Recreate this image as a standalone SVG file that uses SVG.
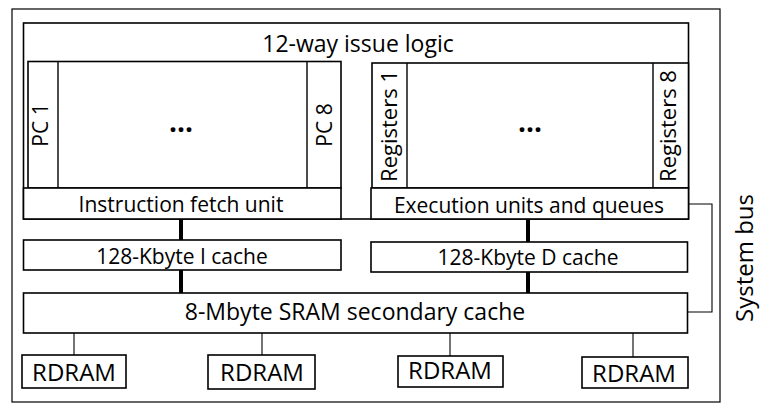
<svg xmlns="http://www.w3.org/2000/svg" width="763" height="405" viewBox="0 0 763 405">
  <style>
    .box { fill: #fff; stroke: #000; stroke-width: 1.6; }
    .frame { fill: none; stroke: #000; stroke-width: 1.2; }
    .div { stroke: #000; stroke-width: 1.4; fill: none; }
    .t { font-family: "Open Sans", "Noto Sans", sans-serif; fill: #000; text-anchor: middle; }
    .m { font-size: 21px; }
    .r { font-size: 22px; }
    .l { font-size: 23px; }
    .xl { font-size: 24px; }
    .dots { font-size: 28px; font-weight: bold; }
    .bus { stroke: #000; stroke-width: 4; fill: none; }
    .wire { stroke: #000; stroke-width: 1.1; fill: none; }
  </style>

  <!-- outer chip boundary -->
  <rect class="frame" x="12" y="9" width="708" height="393"/>

  <g id="issue-logic">
    <rect class="box" x="23.5" y="23" width="665" height="196"/>
    <text class="t l" x="358" y="52">12-way issue logic</text>
  </g>

  <g id="pc-bank">
    <rect class="box" x="28" y="61.5" width="313" height="126.5"/>
    <line class="div" x1="58" y1="61.5" x2="58" y2="188"/>
    <line class="div" x1="307" y1="61.5" x2="307" y2="188"/>
    <text class="t m" transform="translate(48,125) rotate(-90)">PC 1</text>
    <text class="t m" transform="translate(332,125) rotate(-90)">PC 8</text>
    <text class="t dots" x="181" y="132">...</text>
  </g>

  <g id="register-bank">
    <rect class="box" x="372" y="63" width="316.5" height="125"/>
    <line class="div" x1="407" y1="63" x2="407" y2="188"/>
    <line class="div" x1="653" y1="63" x2="653" y2="188"/>
    <text class="t r" transform="translate(397,126) rotate(-90)">Registers 1</text>
    <text class="t r" transform="translate(676,126) rotate(-90)">Registers 8</text>
    <text class="t dots" x="530" y="132">...</text>
  </g>

  <g id="fetch-unit">
    <rect class="box" x="23.5" y="188" width="317.5" height="31"/>
    <text class="t m" x="181" y="212">Instruction fetch unit</text>
  </g>

  <g id="exec-units">
    <rect class="box" x="371" y="188" width="317.5" height="31"/>
    <text class="t m" x="529" y="213">Execution units and queues</text>
  </g>

  <g id="icache">
    <rect class="box" x="23.5" y="240" width="317.5" height="30"/>
    <text class="t m" x="182" y="264">128-Kbyte I cache</text>
  </g>

  <g id="dcache">
    <rect class="box" x="371" y="242" width="316.5" height="30"/>
    <text class="t m" x="528" y="265">128-Kbyte D cache</text>
  </g>

  <g id="sram">
    <rect class="box" x="23.5" y="293" width="664" height="40"/>
    <text class="t l" x="355" y="320">8-Mbyte SRAM secondary cache</text>
  </g>

  <g id="rdram-1">
    <rect class="box" x="22" y="355" width="104" height="33"/>
    <text class="t xl" x="74" y="381">RDRAM</text>
  </g>
  <g id="rdram-2">
    <rect class="box" x="208" y="355" width="107" height="34"/>
    <text class="t xl" x="262" y="381">RDRAM</text>
  </g>
  <g id="rdram-3">
    <rect class="box" x="398" y="356" width="105" height="31"/>
    <text class="t xl" x="450" y="379">RDRAM</text>
  </g>
  <g id="rdram-4">
    <rect class="box" x="582" y="357" width="106" height="31"/>
    <text class="t xl" x="634" y="382">RDRAM</text>
  </g>

  <g id="connectors">
    <line class="bus" x1="181" y1="219" x2="181" y2="240"/>
    <line class="bus" x1="181" y1="270" x2="181" y2="293"/>
    <line class="bus" x1="528" y1="219" x2="528" y2="242"/>
    <line class="bus" x1="528" y1="272" x2="528" y2="293"/>
    <line class="wire" x1="74" y1="333" x2="74" y2="355"/>
    <line class="wire" x1="262" y1="333" x2="262" y2="355"/>
    <line class="wire" x1="450" y1="333" x2="450" y2="356"/>
    <line class="wire" x1="633" y1="333" x2="633" y2="357"/>
    <polyline class="wire" points="688.5,204 712,204 712,312 687.5,312"/>
  </g>

  <g id="system-bus-label">
    <text class="t xl" transform="translate(753,258) rotate(-90)">System bus</text>
  </g>
</svg>
